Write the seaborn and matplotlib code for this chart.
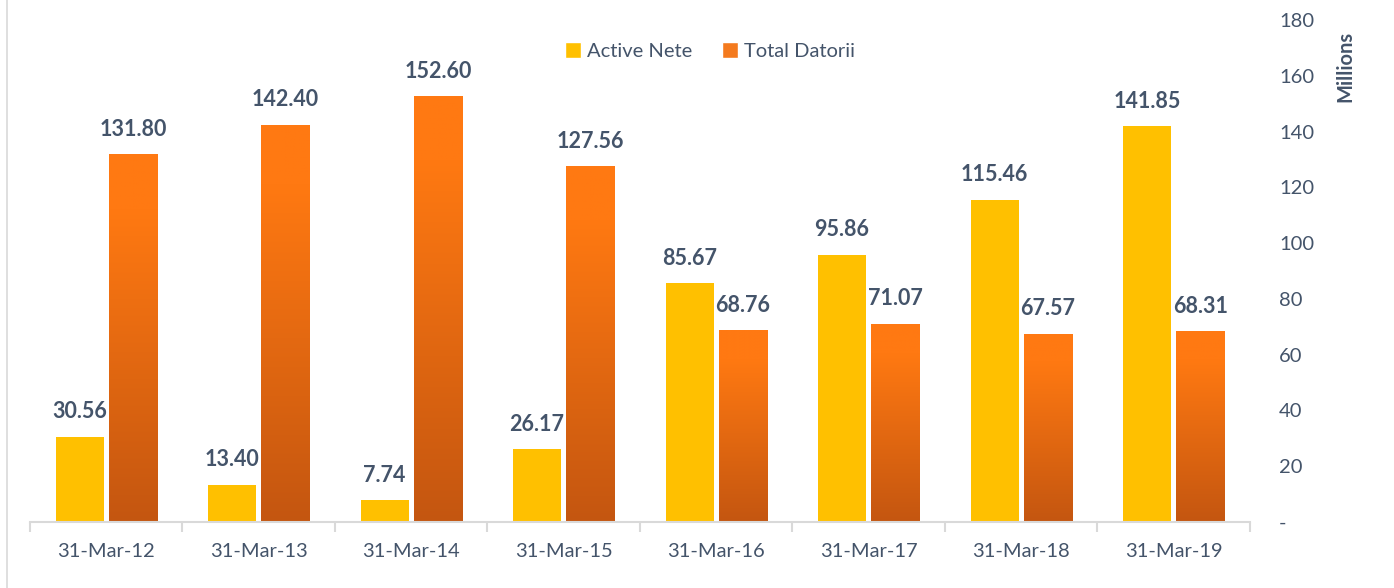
import matplotlib

matplotlib.use("Agg")
import matplotlib.pyplot as plt
import numpy as np
import pandas as pd
import seaborn as sns
from matplotlib.lines import Line2D
from matplotlib.patches import Patch

# ---- data ----
dates = ["31-Mar-12", "31-Mar-13", "31-Mar-14", "31-Mar-15",
         "31-Mar-16", "31-Mar-17", "31-Mar-18", "31-Mar-19"]
active_nete = [30.56, 13.40, 7.74, 26.17, 85.67, 95.86, 115.46, 141.85]
total_datorii = [131.80, 142.40, 152.60, 127.56, 68.76, 71.07, 67.57, 68.31]
series_names = ["Active Nete", "Total Datorii"]
y_ticks = [0, 20, 40, 60, 80, 100, 120, 140, 160, 180]

df = pd.DataFrame({
    "Date": dates * 2,
    "Series": [series_names[0]] * len(dates) + [series_names[1]] * len(dates),
    "Value": active_nete + total_datorii,
})

TEXT = "#44546A"
YELLOW = "#FFC000"
ORANGE_TOP = np.array([255, 121, 18]) / 255
ORANGE_BOT = np.array([196, 86, 16]) / 255

sns.set_theme(style="white")
plt.rcParams["font.family"] = ["Lato", "DejaVu Sans"]

fig = plt.figure(figsize=(13.94, 5.88), dpi=100)
ax = fig.add_axes([30 / 1394, 66 / 588, 1220 / 1394, 502 / 588])

sns.barplot(data=df, x="Date", y="Value", hue="Series", hue_order=series_names,
            palette=[YELLOW, "#F47A1E"], width=0.7, gap=0.1, ax=ax,
            legend=False, saturation=1, edgecolor="none")

# gradient fill for the orange bars (per bar, bright top -> darker bottom)
t = np.clip((np.linspace(0, 1, 256) - 0.15) / 0.85, 0, 1)[:, None, None]
img = ORANGE_TOP[None, None, :] * (1 - t) + ORANGE_BOT[None, None, :] * t
for bar in ax.containers[1]:
    x0, w, h = bar.get_x(), bar.get_width(), bar.get_height()
    bar.set_facecolor("none")
    im = ax.imshow(img, extent=[x0, x0 + w, 0, h], origin="upper",
                   aspect="auto", zorder=bar.get_zorder())
    im.set_clip_path(bar)
ax.set_xlim(-0.5, len(dates) - 0.5)
ax.set_ylim(0, 180)

# data labels
for cont in ax.containers:
    for bar in cont:
        ax.annotate(f"{bar.get_height():.2f}",
                    (bar.get_x() + bar.get_width() / 2, bar.get_height()),
                    xytext=(0, 18), textcoords="offset points",
                    ha="center", va="center", fontsize=15.5,
                    fontweight="bold", color=TEXT)

# axes styling
for s in ["top", "left", "right"]:
    ax.spines[s].set_visible(False)
ax.spines["bottom"].set_color("#D9D9D9")
ax.spines["bottom"].set_linewidth(1.5)

ax.set_xticks(range(len(dates)))
ax.set_xticklabels(dates)
ax.set_xticks(np.arange(-0.5, len(dates), 1), minor=True)
ax.tick_params(axis="x", which="major", length=0, pad=15, labelsize=14.5,
               labelcolor=TEXT)
ax.tick_params(axis="x", which="minor", length=7, width=1.5, color="#D9D9D9",
               direction="out", bottom=True)

ax.yaxis.tick_right()
ax.set_yticks(y_ticks)
ax.set_yticklabels(["-"] + [str(v) for v in y_ticks[1:]])
ax.tick_params(axis="y", length=0, pad=21, labelsize=14.5, labelcolor=TEXT)
ax.set_xlabel("")
ax.set_ylabel("")
ax.grid(False)

fig.text(1345 / 1394, 1 - 66 / 588, "Millions", rotation=90, ha="center",
         va="center", fontsize=14.5, fontweight="bold", color=TEXT)

handles = [Patch(facecolor=YELLOW), Patch(facecolor="#F47A1E")]
fig.legend(handles, series_names, loc="center", bbox_to_anchor=(710 / 1394, 1 - 51 / 588),
           ncol=2, frameon=False, fontsize=14.5, labelcolor=TEXT,
           handlelength=0.8, handleheight=0.8, handletextpad=0.3, columnspacing=1.5)

fig.add_artist(Line2D([7 / 1394, 7 / 1394], [0, 1], color="#D9D9D9", lw=1.2,
                      transform=fig.transFigure))

fig.savefig("out.png", dpi=100)
